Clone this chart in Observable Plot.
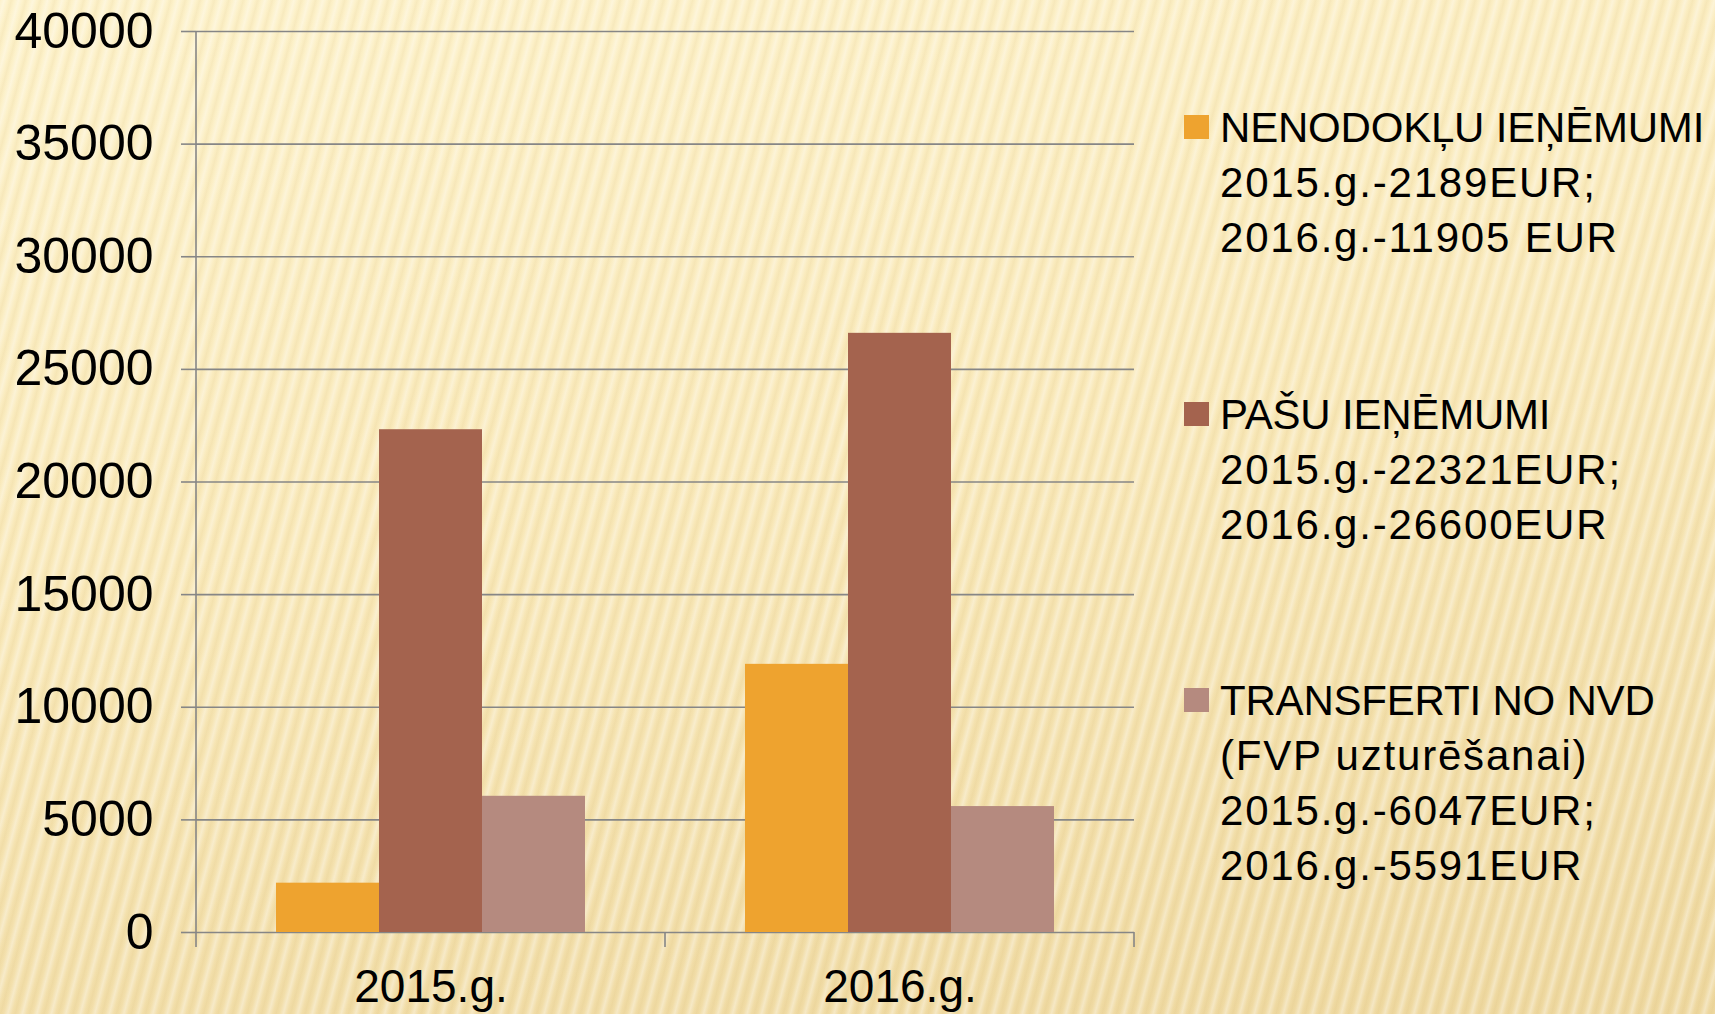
<!DOCTYPE html>
<html>
<head>
<meta charset="utf-8">
<script src="https://cdn.jsdelivr.net/npm/d3@7"></script>
<script src="https://cdn.jsdelivr.net/npm/@observablehq/plot@0.6"></script>
<style>
  html, body { margin: 0; padding: 0; }
  body {
    width: 1715px; height: 1014px; overflow: hidden; position: relative;
    background:
      repeating-linear-gradient(105deg, rgba(255,255,255,0) 0px, rgba(255,255,255,0.35) 4px, rgba(255,255,255,0) 8px, rgba(190,150,60,0.08) 11px, rgba(255,255,255,0) 14px),
      linear-gradient(170deg, #FDF2CB 0%, #F9E9BA 45%, #EED8A0 100%);
    font-family: "Liberation Sans", Arial, sans-serif;
  }
  #chart { position: absolute; left: 0; top: 0; }
  #legend { position: absolute; left: 1184px; top: 100px; }
  .entry { position: relative; padding-left: 36px; margin-bottom: 121.5px; font-size: 42px; line-height: 55px; color: #000; white-space: nowrap; }
  .entry .l0 { letter-spacing: -0.2px; }
  .entry .ln { letter-spacing: 1.8px; }
  .swatch { position: absolute; left: 0; top: 15px; width: 25px; height: 24px; }
</style>
</head>
<body>
<div id="chart"></div>
<div id="legend"></div>
<script>
const years = ["2015.g.", "2016.g."];
const seriesNames = ["NENODOKĻU IEŅĒMUMI", "PAŠU IEŅĒMUMI", "TRANSFERTI NO NVD"];
const nenodokluValues = [2189, 11905];
const pasuValues = [22321, 26600];
const transfertiValues = [6047, 5591];
const seriesColors = ["#EEA32F", "#A4634E", "#B58A7F"];
const yTicks = [0, 5000, 10000, 15000, 20000, 25000, 30000, 35000, 40000];
const legendLines = [
  ["NENODOKĻU IEŅĒMUMI", "2015.g.-2189EUR;", "2016.g.-11905 EUR"],
  ["PAŠU IEŅĒMUMI", "2015.g.-22321EUR;", "2016.g.-26600EUR"],
  ["TRANSFERTI NO NVD", "(FVP uzturēšanai)", "2015.g.-6047EUR;", "2016.g.-5591EUR"]
];

const seriesValues = [nenodokluValues, pasuValues, transfertiValues];
const data = [];
years.forEach((yr, i) => seriesNames.forEach((s, j) => data.push({year: yr, series: s, value: seriesValues[j][i]})));

const W = 1160, H = 1014;
const gridColor = "#868686";

const plot = Plot.plot({
  width: W, height: H,
  marginLeft: 195, marginRight: 26, marginTop: 31, marginBottom: 82,
  style: {background: "none", fontFamily: "'Liberation Sans', Arial, sans-serif", fontSize: "50px", color: "#000"},
  fx: {domain: years, padding: 0, label: null},
  x: {domain: seriesNames, paddingInner: 0, paddingOuter: 0.76, axis: null},
  y: {domain: [0, 40000], label: null},
  color: {domain: seriesNames, range: seriesColors},
  marks: [
    Plot.gridY(yTicks, {stroke: gridColor, strokeOpacity: 1, strokeWidth: 1.6}),
    Plot.barY(data, {fx: "year", x: "series", y: "value", fill: "series"}),
    Plot.axisY(yTicks, {tickSize: 15, tickPadding: 28, stroke: gridColor, strokeWidth: 1.6, tickFormat: d3.format("d"), label: null, fill: "#000"}),
    Plot.axisFx({anchor: "bottom", tickSize: 0, tickPadding: 37, fontSize: 46, label: null, fill: "#000"})
  ]
});

// Axis line and category boundary ticks, placed with the plot's own scales
const ys = plot.scale("y"), fxs = plot.scale("fx");
const svg = d3.select(plot);
const x0 = fxs.apply(years[0]);
const yTop = ys.apply(40000), yBase = ys.apply(0);
svg.append("line").attr("x1", x0).attr("x2", x0).attr("y1", yTop).attr("y2", yBase + 15)
  .attr("stroke", gridColor).attr("stroke-width", 1.6);
years.forEach(yr => {
  const xe = fxs.apply(yr) + fxs.bandwidth;
  svg.append("line").attr("x1", xe).attr("x2", xe).attr("y1", yBase).attr("y2", yBase + 15)
    .attr("stroke", gridColor).attr("stroke-width", 1.6);
});
document.getElementById("chart").appendChild(plot);

// Legend (HTML, to the right of the SVG)
const legend = d3.select("#legend");
legendLines.forEach((lines, j) => {
  const e = legend.append("div").attr("class", "entry");
  e.append("div").attr("class", "swatch").style("background", seriesColors[j]);
  lines.forEach((t, k) => e.append("div").attr("class", k === 0 ? "l0" : "ln").text(t));
});
</script>
</body>
</html>
